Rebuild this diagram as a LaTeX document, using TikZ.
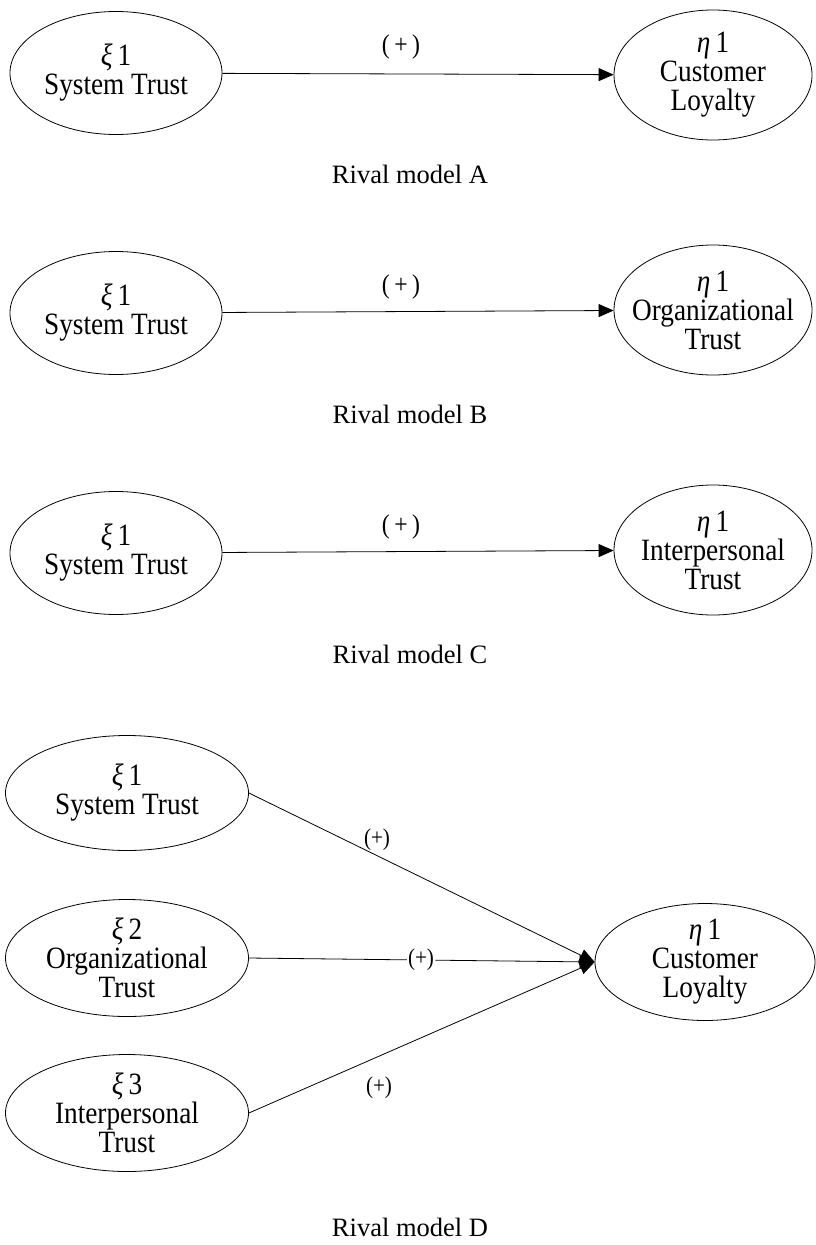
\documentclass[tikz,border=0pt]{standalone}
\usepackage{fontspec}
\setmainfont{Liberation Serif}
\newfontfamily\nodefont{Liberation Serif}[FakeStretch=0.88]
\usetikzlibrary{shapes.geometric,arrows.meta}
\tikzset{
  latent/.style={draw, ellipse, line width=0.8pt, inner sep=0pt},
  ltext/.style={inner sep=0pt, align=center, font=\nodefont\fontsize{31}{29}\selectfont},
  path/.style={line width=0.8pt, -{Triangle[length=15pt,width=13pt]}},
  plusA/.style={font=\nodefont\fontsize{27}{29}\selectfont},
  plusD/.style={font=\nodefont\fontsize{24}{26}\selectfont, inner sep=1pt},
  caption/.style={font=\fontsize{26.5}{29}\selectfont}
}
\newcommand{\gx}[1]{{\itshape ξ}\,#1}
\newcommand{\gh}[1]{{\itshape η}\,#1}
\begin{document}
\begin{tikzpicture}[x=1pt,y=-1pt]
\useasboundingbox (0,0) rectangle (815,1245);
% Model A
\node[latent, minimum width=212pt, minimum height=123pt] (a1) at (116,73) {};
\node[ltext] (a1t) at (a1) {\gx{1}\\System Trust};
\node[latent, minimum width=198pt, minimum height=130pt] (a2) at (713,75) {};
\node[ltext] (a2t) at (a2) {\gh{1}\\Customer\\Loyalty};
\draw[path] (a1) -- (a2);
\node[plusA] (pa) at (401,47) {(\,+\,)};
\node[caption] (ca) at (410,174) {Rival model A};
% Model B
\node[latent, minimum width=212pt, minimum height=123pt] (b1) at (116,313) {};
\node[ltext] (b1t) at (b1) {\gx{1}\\System Trust};
\node[latent, minimum width=198pt, minimum height=130pt] (b2) at (713,310) {};
\node[ltext] (b2t) at (b2) {\gh{1}\\Organizational\\Trust};
\draw[path] (b1) -- (b2);
\node[plusA] (pb) at (401,287) {(\,+\,)};
\node[caption] (cb) at (410,414) {Rival model B};
% Model C
\node[latent, minimum width=212pt, minimum height=123pt] (c1) at (116,553) {};
\node[ltext] (c1t) at (c1) {\gx{1}\\System Trust};
\node[latent, minimum width=198pt, minimum height=130pt] (c2) at (713,550) {};
\node[ltext] (c2t) at (c2) {\gh{1}\\Interpersonal\\Trust};
\draw[path] (c1) -- (c2);
\node[plusA] (pc) at (401,527) {(\,+\,)};
\node[caption] (cc) at (410,654) {Rival model C};
% Model D
\node[latent, minimum width=243pt, minimum height=115pt] (d1) at (127,793) {};
\node[ltext] (d1t) at (d1) {\gx{1}\\System Trust};
\node[latent, minimum width=243pt, minimum height=117pt] (d2) at (127,958) {};
\node[ltext] (d2t) at (d2) {\gx{2}\\Organizational\\Trust};
\node[latent, minimum width=243pt, minimum height=117pt] (d3) at (127,1113) {};
\node[ltext] (d3t) at (d3) {\gx{3}\\Interpersonal\\Trust};
\node[latent, minimum width=220pt, minimum height=117pt] (d4) at (705,962) {};
\node[ltext] (d4t) at (d4) {\gh{1}\\Customer\\Loyalty};
\draw[path] (d1.east) -- (d4.west);
\draw[line width=0.8pt] (d2.east) -- (421,960) node[plusD, fill=white] (pd2) {(+)};
\draw[path] (pd2) -- (d4.west);
\draw[path] (d3.east) -- (d4.west);
\node[plusD] (pd1) at (377,840) {(+)};
\node[plusD] (pd3) at (379,1088) {(+)};
\node[caption] (cd) at (410,1227) {Rival model D};
\end{tikzpicture}
\end{document}
